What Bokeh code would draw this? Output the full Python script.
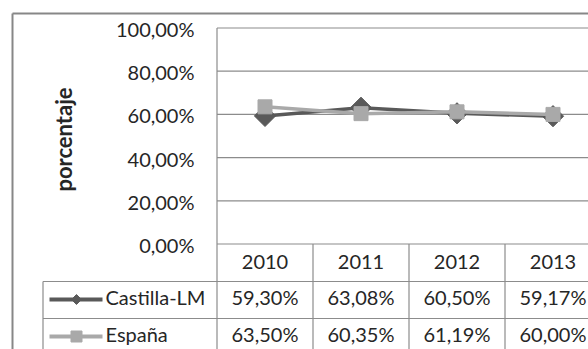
from math import pi
from bokeh.plotting import figure
from bokeh.models import Range1d
from bokeh.core.properties import value
from bokeh.embed import file_html
from bokeh.resources import INLINE

# ---------------- data ----------------
years = ["2010", "2011", "2012", "2013"]
castilla = [59.30, 63.08, 60.50, 59.17]
espana = [63.50, 60.35, 61.19, 60.00]
series_names = ["Castilla-LM", "España"]
y_ticks = [0, 20, 40, 60, 80, 100]
y_tick_labels = ["0,00%", "20,00%", "40,00%", "60,00%", "80,00%", "100,00%"]
y_title = "porcentaje"


def fmt(v):
    return f"{v:.2f}".replace(".", ",") + "%"


# ---------------- layout helpers (page pixels -> data units) ----------------
W, H = 588, 349
M = 0
X0, DX = 264.5, 96.0      # page x of first category, px per category
Y0, PPU = 243.5, 2.16     # page y of 0 %, px per percent


def X(px):
    return (px - X0) / DX


def Y(py):
    return (Y0 - py) / PPU


FONT = value("Lato")
DARK = "#595959"
LIGHT = "#a9a9a9"
GRID = "#8c8c8c"
TXT = "#262626"

p = figure(width=W, height=H, x_range=Range1d(X(M), X(M + W)),
           y_range=Range1d(Y(M + H), Y(M)), output_backend="svg",
           toolbar_location=None, min_border=0, outline_line_color=None,
           x_axis_location=None, y_axis_location=None)
p.grid.visible = False
p.background_fill_color = "white"
p.border_fill_color = "white"

xs = list(range(len(years)))
right = X(620)
bottom = Y(380)

# outer chart border
p.segment(x0=[X(12), X(12)], y0=[Y(13), Y(13)], x1=[X(12), right], y1=[bottom, Y(13)],
          line_color="#878787", line_width=2)

# gridlines (incl. plot top and 0 line)
p.segment(x0=[X(216.5)] * len(y_ticks), y0=y_ticks, x1=[right] * len(y_ticks), y1=y_ticks,
          line_color=GRID, line_width=1.2)
# plot left border extending down through the table
p.segment(x0=[X(216.5)], y0=[y_ticks[-1]], x1=[X(216.5)], y1=[bottom],
          line_color=GRID, line_width=1.2)
# column boundaries of the data table
p.segment(x0=[i + 0.5 for i in xs[:-1]], y0=[0] * (len(xs) - 1),
          x1=[i + 0.5 for i in xs[:-1]], y1=[bottom] * (len(xs) - 1),
          line_color=GRID, line_width=1.2)
# row lines and legend column border
p.segment(x0=[X(42.5), X(42.5)], y0=[Y(281), Y(318)], x1=[right, right], y1=[Y(281), Y(318)],
          line_color=GRID, line_width=1.2)
p.segment(x0=[X(42.5)], y0=[Y(281)], x1=[X(42.5)], y1=[bottom],
          line_color=GRID, line_width=1.2)

# y tick labels
p.text(x=[X(194)] * len(y_ticks), y=y_ticks, text=y_tick_labels,
       text_font=FONT, text_font_size="20px", text_color=TXT,
       text_align="right", text_baseline="middle", y_offset=1)

# y title
p.text(x=[X(63)], y=[Y(139)], text=[y_title], angle=pi / 2,
       text_font=FONT, text_font_size="22px", text_font_style="bold",
       text_color=TXT, text_align="center", text_baseline="middle")

# series
p.line(xs, castilla, line_color=DARK, line_width=3.5)
p.scatter(xs, castilla, marker="square", angle=pi / 4, size=15,
          fill_color=DARK, line_color=DARK)
p.line(xs, espana, line_color=LIGHT, line_width=3.5)
p.scatter(xs, espana, marker="square", size=14, fill_color=LIGHT, line_color=LIGHT)

# table header
p.text(x=xs, y=[Y(261.5)] * len(xs), text=years, text_font=FONT, text_font_size="20px",
       text_color=TXT, text_align="center", text_baseline="middle")
# table values
p.text(x=xs, y=[Y(296)] * len(xs), text=[fmt(v) for v in castilla], text_font=FONT,
       text_font_size="20px", text_color=TXT, text_align="center", text_baseline="middle")
p.text(x=xs, y=[Y(333.5)] * len(xs), text=[fmt(v) for v in espana], text_font=FONT,
       text_font_size="20px", text_color=TXT, text_align="center", text_baseline="middle")

# legend keys
p.segment(x0=[X(49)], y0=[Y(299)], x1=[X(102)], y1=[Y(299)], line_color=DARK, line_width=4)
p.scatter([X(76)], [Y(299)], marker="square", angle=pi / 4, size=7,
          fill_color=DARK, line_color=DARK)
p.segment(x0=[X(49)], y0=[Y(336)], x1=[X(102)], y1=[Y(336)], line_color=LIGHT, line_width=4)
p.scatter([X(76)], [Y(336)], marker="square", size=11, fill_color=LIGHT, line_color=LIGHT)
p.text(x=[X(105), X(105)], y=[Y(296), Y(333.5)], text=series_names, text_font=FONT,
       text_font_size="20px", text_color=TXT, text_align="left", text_baseline="middle")

open("out.html", "w").write(file_html(p, INLINE))
